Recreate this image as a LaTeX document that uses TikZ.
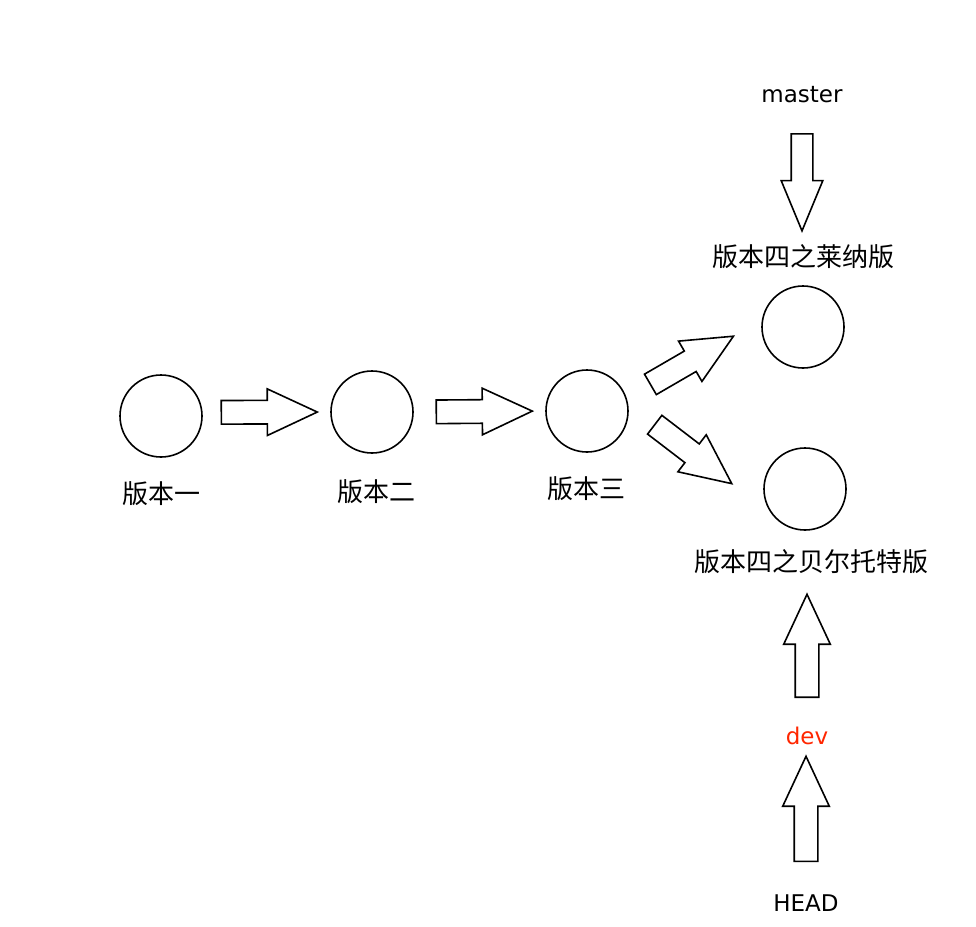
\documentclass[tikz,border=0pt]{standalone}
\usepackage{fontspec}
\setmainfont{DejaVu Sans}
\newfontfamily\cjk{Noto Sans CJK SC}
\usepackage{tikz}
\usetikzlibrary{shapes.arrows}
\definecolor{DevRed}{RGB}{255, 38, 0}
\begin{document}
\begin{tikzpicture}[x=1pt, y=-1pt, line width=1.6pt, ver/.style={circle, draw, minimum size=82pt, inner sep=0pt},
  lab/.style={font=\cjk\fontsize{26}{30}\selectfont, inner sep=2pt}, ref/.style={font=\fontsize{23}{28}\selectfont, inner sep=2pt},
  barrow/.style={single arrow, draw, sloped, allow upside down, anchor=tail, minimum height=96pt, minimum width=45pt, single arrow head extend=11.5pt, single arrow tip angle=50, inner xsep=0pt, inner ysep=11pt}]
\useasboundingbox (0,0) rectangle (976,926);
\node[ver] (c1) at (161,416) {};
\node[ver] (c2) at (372,412) {};
\node[ver] (c3) at (587,411) {};
\node[ver] (c4) at (803,327) {};
\node[ver] (c5) at (805,489) {};
\node[lab] (l1) at (161,494) {版本一};
\node[lab] (l2) at (376,492) {版本二};
\node[lab] (l3) at (586,489) {版本三};
\node[lab] (l4) at (803,257) {版本四之莱纳版};
\node[lab] (l5) at (811,562) {版本四之贝尔托特版};
\node[ref] (master) at (802,95) {master};
\node[ref, text=DevRed] (dev) at (807,736) {dev};
\node[ref] (head) at (806,903) {HEAD};
\path (c1.5) -- node[barrow, pos=0.14] {} (c2.west); \path (c2.east) -- node[barrow, pos=0.165] {} (c3.west);
\path (c3.18) -- node[barrow, pos=0.17] {} (c4.170); \path (c3.9) -- node[barrow, pos=0.18, minimum height=97pt] {} (c5.217);
\path (master.center) -- node[barrow, pos=0.235, minimum height=97pt, minimum width=40pt, single arrow head extend=10pt, single arrow tip angle=45, inner ysep=10pt] {} (master.center |- l4.center);
\path (dev.center) -- node[barrow, pos=0.218, minimum height=103pt] {} (dev.center |- l5.center);
\path (head.center) -- node[barrow, pos=0.245, minimum height=105pt] {} (head.center |- dev.center);
\end{tikzpicture}
\end{document}
